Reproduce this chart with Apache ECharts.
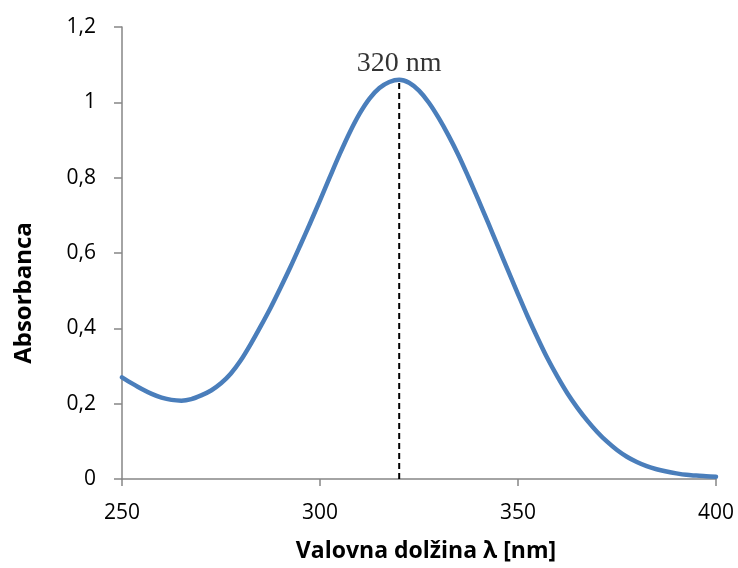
<!DOCTYPE html>
<html>
<head>
<meta charset="utf-8">
<script src="https://cdn.jsdelivr.net/npm/echarts@6/dist/echarts.min.js"></script>
<style>
  html, body { margin: 0; padding: 0; background: #fff; }
  #chart { width: 738px; height: 568px; }
</style>
</head>
<body>
<div id="chart"></div>
<script>
// Absorption spectrum, sampled every 2.5 nm: wavelength (nm) and absorbance
const wavelengths = [
  250, 252.5, 255, 257.5, 260, 262.5, 265, 267.5, 270, 272.5, 275, 277.5, 280, 282.5, 285, 287.5,
  290, 292.5, 295, 297.5, 300, 302.5, 305, 307.5, 310, 312.5, 315, 317.5, 320, 322.5, 325, 327.5,
  330, 332.5, 335, 337.5, 340, 342.5, 345, 347.5, 350, 352.5, 355, 357.5, 360, 362.5, 365, 367.5,
  370, 372.5, 375, 377.5, 380, 382.5, 385, 387.5, 390, 392.5, 395, 397.5, 400
];
const absorbance = [
  0.270, 0.254, 0.239, 0.226, 0.216, 0.210, 0.208, 0.212, 0.222, 0.235, 0.254, 0.280, 0.315, 0.358, 0.405, 0.454,
  0.507, 0.562, 0.620, 0.679, 0.740, 0.802, 0.863, 0.920, 0.970, 1.010, 1.038, 1.054, 1.060, 1.052, 1.031, 0.999,
  0.958, 0.911, 0.859, 0.801, 0.741, 0.679, 0.616, 0.553, 0.491, 0.430, 0.373, 0.319, 0.271, 0.227, 0.189, 0.155,
  0.125, 0.099, 0.077, 0.059, 0.045, 0.034, 0.026, 0.020, 0.015, 0.011, 0.009, 0.007, 0.006
];

// Absorption maximum
const peakWavelength = 320;
const peakAbsorbance = 1.06;
const peakLabel = '320 nm';

const xTitle = 'Valovna dolžina λ [nm]';
const yTitle = 'Absorbanca';

const chart = echarts.init(document.getElementById('chart'), null, { renderer: 'canvas' });

const labelFont = '"Open Sans", "Liberation Sans", sans-serif';

chart.setOption({
  animation: false,
  backgroundColor: '#ffffff',
  grid: { left: 122, right: 22, top: 27, bottom: 89, containLabel: false },
  xAxis: {
    type: 'value',
    min: 250, max: 400, interval: 50,
    axisLine: { show: true, lineStyle: { color: '#868686', width: 1.5 } },
    axisTick: { show: true, inside: false, length: 7, lineStyle: { color: '#868686', width: 1.5 } },
    splitLine: { show: false },
    axisLabel: { color: '#000', fontSize: 21, fontFamily: labelFont, margin: 24 }
  },
  yAxis: {
    type: 'value',
    min: 0, max: 1.2, interval: 0.2,
    axisLine: { show: true, lineStyle: { color: '#868686', width: 1.5 } },
    axisTick: { show: true, inside: false, length: 8, lineStyle: { color: '#868686', width: 1.5 } },
    splitLine: { show: false },
    axisLabel: {
      color: '#000', fontSize: 21, fontFamily: labelFont, margin: 26,
      formatter: v => String(Math.round(v * 10) / 10).replace('.', ',')
    }
  },
  series: [
    {
      type: 'line',
      data: wavelengths.map((w, i) => [w, absorbance[i]]),
      smooth: 0.3,
      showSymbol: false,
      lineStyle: { color: '#4A7EBB', width: 4.5, cap: 'round', join: 'round' },
      z: 3
    },
    {
      // dashed drop line at the absorption maximum
      type: 'line',
      data: [[peakWavelength, 0], [peakWavelength, peakAbsorbance]],
      showSymbol: false,
      lineStyle: { color: '#000', width: 2, type: [6, 4] },
      z: 2
    },
    {
      type: 'scatter',
      data: [[peakWavelength, peakAbsorbance]],
      symbolSize: 0,
      label: {
        show: true,
        position: 'top',
        distance: 2,
        formatter: peakLabel,
        color: '#000',
        fontSize: 28,
        fontFamily: '"Liberation Serif", "Times New Roman", serif'
      },
      z: 4
    }
  ],
  graphic: [
    {
      type: 'text',
      x: 426, y: 551,
      style: {
        text: xTitle,
        font: 'bold 23px "Open Sans", "Liberation Sans", sans-serif',
        fill: '#000',
        textAlign: 'center',
        textVerticalAlign: 'middle'
      }
    },
    {
      type: 'text',
      x: 24, y: 293,
      rotation: Math.PI / 2,
      style: {
        text: yTitle,
        font: 'bold 24px "Open Sans", "Liberation Sans", sans-serif',
        fill: '#000',
        textAlign: 'center',
        textVerticalAlign: 'middle'
      }
    }
  ]
});
</script>
</body>
</html>
